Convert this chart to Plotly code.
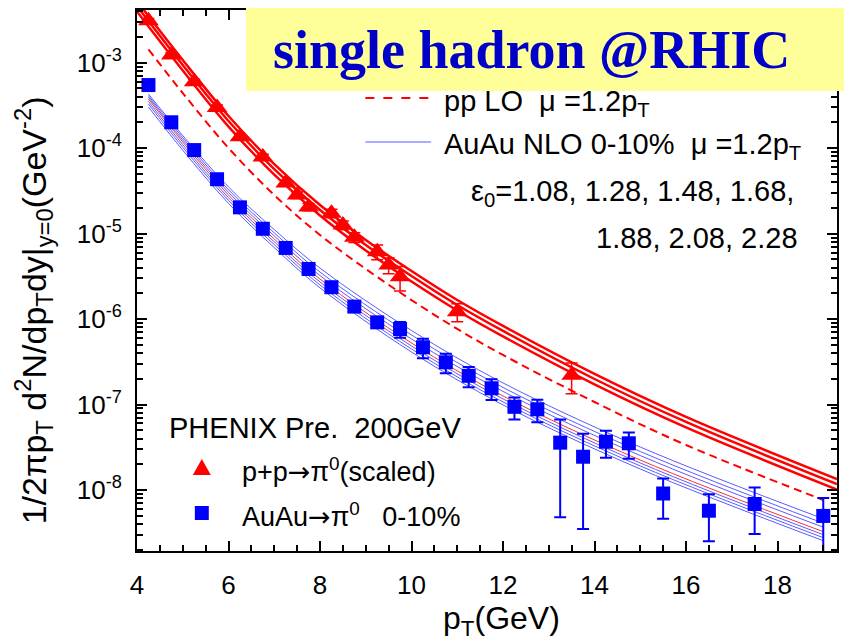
import plotly.graph_objects as go

# ---------------- data ----------------
# PHENIX preliminary p+p -> pi0 (scaled), 200 GeV
pp_pt = [4.25, 4.75, 5.25, 5.75, 6.25, 6.75, 7.25, 7.5, 7.75, 8.25, 8.5, 8.75,
         9.25, 9.5, 9.75, 11.0, 13.5]
pp_yield = [3.1e-3, 1.23e-3, 6.0e-4, 3.0e-4, 1.36e-4, 7.9e-5, 3.9e-5, 2.83e-5,
            2.05e-5, 1.73e-5, 1.26e-5, 9.06e-6, 6.15e-6, 4.3e-6, 3.13e-6,
            1.22e-6, 2.2e-7]
pp_err = [2e-4, 8e-5, 4e-5, 2e-5, 1e-5, 6e-6, 3e-6, 2.5e-6, 2e-6, 2e-6, 1.5e-6,
          1.2e-6, 1.2e-6, 0.9e-6, 1.0e-6, 0.29e-6, 0.86e-7]

# PHENIX preliminary Au+Au -> pi0, 0-10% central
auau_pt = [4.25, 4.75, 5.25, 5.75, 6.25, 6.75, 7.25, 7.75, 8.25, 8.75, 9.25, 9.75,
           10.25, 10.75, 11.25, 11.75, 12.25, 12.75, 13.25, 13.75, 14.25, 14.75,
           15.5, 16.5, 17.5, 19.0]
auau_yield = [5.48e-4, 2.01e-4, 9.5e-5, 4.33e-5, 2.03e-5, 1.14e-5, 6.8e-6, 3.86e-6,
              2.36e-6, 1.40e-6, 9.16e-7, 7.65e-7, 4.68e-7, 3.12e-7, 2.17e-7,
              1.55e-7, 9.4e-8, 8.8e-8, 3.58e-8, 2.45e-8, 3.67e-8, 3.52e-8,
              9.1e-9, 5.72e-9, 6.86e-9, 4.97e-9]
auau_err = [2e-5, 8e-6, 4e-6, 2e-6, 1e-6, 6e-7, 4e-7, 2.5e-7, 1.6e-7, 1.2e-7, 1.0e-7,
            1.6e-7, 1.2e-7, 0.8e-7, 0.58e-7, 0.42e-7, 2.7e-8, 2.6e-8, 3.1e-8,
            2.1e-8, 1.28e-8, 1.2e-8, 4.5e-9, 3.2e-9, 3.8e-9, 3.1e-9]

# pp NLO curves (three scale choices)
nlo_pt = [4, 5, 6, 7, 8, 9, 10, 11, 12, 14, 16, 19.3]
nlo_upper = [5.26e-3, 1.075e-3, 2.38e-4, 6.52e-5, 2.16e-5, 8.42e-6, 3.65e-6,
             1.67e-6, 8.31e-7, 2.28e-7, 7.15e-8, 1.34e-8]
nlo_middle = [4.60e-3, 9.40e-4, 2.08e-4, 5.70e-5, 1.89e-5, 7.36e-6, 3.19e-6,
              1.46e-6, 7.26e-7, 1.99e-7, 6.25e-8, 1.17e-8]
nlo_lower = [3.97e-3, 8.10e-4, 1.79e-4, 4.91e-5, 1.63e-5, 6.34e-6, 2.75e-6,
             1.26e-6, 6.26e-7, 1.72e-7, 5.39e-8, 1.01e-8]

# pp LO, mu = 1.2 pT
lo_pt = [4.25, 5, 6, 7, 8, 9, 10, 11, 12, 14, 16, 19]
lo_yield = [1.43e-3, 4.42e-4, 1.005e-4, 2.83e-5, 9.64e-6, 3.86e-6, 1.67e-6,
            7.66e-7, 3.80e-7, 1.07e-7, 3.36e-8, 7.64e-9]

# AuAu NLO 0-10%, mu = 1.2 pT, one curve per epsilon_0
band_pt = [4.25, 5, 6, 7, 8, 10, 12, 15, 19]
eps_108 = [4.30e-4, 1.405e-4, 3.51e-5, 1.117e-5, 3.95e-6, 7.35e-7, 1.79e-7, 3.18e-8, 4.61e-9]
eps_128 = [4.11e-4, 1.325e-4, 3.26e-5, 1.022e-5, 3.55e-6, 6.52e-7, 1.584e-7, 2.82e-8, 4.09e-9]
eps_148 = [3.93e-4, 1.248e-4, 3.04e-5, 9.40e-6, 3.23e-6, 5.85e-7, 1.423e-7, 2.53e-8, 3.67e-9]
eps_168 = [3.76e-4, 1.18e-4, 2.83e-5, 8.65e-6, 2.94e-6, 5.25e-7, 1.26e-7, 2.24e-8, 3.25e-9]
eps_188 = [3.52e-4, 1.100e-4, 2.63e-5, 8.02e-6, 2.72e-6, 4.85e-7, 1.163e-7, 2.07e-8, 3.00e-9]
eps_208 = [3.29e-4, 1.025e-4, 2.45e-5, 7.44e-6, 2.51e-6, 4.47e-7, 1.072e-7, 1.91e-8, 2.77e-9]
eps_228 = [3.03e-4, 9.46e-5, 2.26e-5, 6.86e-6, 2.32e-6, 4.12e-7, 9.89e-8, 1.76e-8, 2.55e-9]

x_ticks = [4, 6, 8, 10, 12, 14, 16, 18]
y_ticks = [1e-8, 1e-7, 1e-6, 1e-5, 1e-4, 1e-3]
y_ticktext = ["10<sup>-8</sup>", "10<sup>-7</sup>", "10<sup>-6</sup>",
              "10<sup>-5</sup>", "10<sup>-4</sup>", "10<sup>-3</sup>"]

# ---------------- styling ----------------
RED = "#FF0000"
BLUE = "#0000FF"
BAND_BLUE = "#5A5AFF"
SANS = "Liberation Sans, Arial, sans-serif"
ARROW = '<span style="font-family:DejaVu Sans">\u2192</span>'

W, H = 844, 644
L, R, T, B = 137, 5, 10, 93
PW, PH = W - L - R, H - T - B


def px(x):
    return (x - L) / PW


def py(y):
    return (H - B - y) / PH


fig = go.Figure()

# AuAu NLO band
for ys, col in [(eps_108, BAND_BLUE), (eps_128, BAND_BLUE), (eps_148, BAND_BLUE),
                (eps_188, BAND_BLUE), (eps_208, BAND_BLUE), (eps_228, BAND_BLUE),
                (eps_168, "#FF3030")]:
    fig.add_trace(go.Scatter(x=band_pt, y=ys, mode="lines",
                             line=dict(color=col, width=1, shape="spline"),
                             showlegend=False, hoverinfo="skip"))

# pp LO
fig.add_trace(go.Scatter(x=lo_pt, y=lo_yield, mode="lines",
                         line=dict(color=RED, width=2, dash="8px,5px", shape="spline"),
                         showlegend=False))

# pp NLO
for ys in (nlo_upper, nlo_middle, nlo_lower):
    fig.add_trace(go.Scatter(x=nlo_pt, y=ys, mode="lines",
                             line=dict(color=RED, width=2.5, shape="spline"),
                             showlegend=False))

# data
fig.add_trace(go.Scatter(
    x=pp_pt, y=pp_yield, mode="markers",
    marker=dict(symbol="triangle-up", size=18, color=RED),
    error_y=dict(type="data", array=pp_err, color=RED, thickness=1.5, width=6),
    showlegend=False))
fig.add_trace(go.Scatter(
    x=auau_pt, y=auau_yield, mode="markers",
    marker=dict(symbol="square", size=14, color=BLUE),
    error_y=dict(type="data", array=auau_err, color=BLUE, thickness=2, width=6),
    showlegend=False))

axis_common = dict(showline=True, linecolor="black", linewidth=2, mirror="ticks",
                   ticks="inside", tickcolor="black", tickwidth=2, ticklen=10,
                   showgrid=False, zeroline=False,
                   tickfont=dict(family=SANS, size=26, color="black"))

fig.update_xaxes(range=[4, 19.3], tickvals=x_ticks, ticklabelstandoff=10,
                 minor=dict(ticks="inside", dtick=0.5, ticklen=6, tickwidth=2,
                            tickcolor="black", showgrid=False),
                 **axis_common)
fig.update_yaxes(type="log", range=[-8.714, -2.383], tickvals=y_ticks,
                 ticktext=y_ticktext, ticklabelstandoff=8,
                 minor=dict(ticks="inside", dtick="D1", ticklen=6, tickwidth=2,
                            tickcolor="black", showgrid=False),
                 **axis_common)

shapes = [
    dict(type="line", xref="paper", yref="paper", x0=px(366), x1=px(432),
         y0=py(98), y1=py(98), line=dict(color=RED, width=2, dash="dash")),
    dict(type="line", xref="paper", yref="paper", x0=px(366), x1=px(432),
         y0=py(142), y1=py(142), line=dict(color=BAND_BLUE, width=1)),
    dict(type="path", xref="paper", yref="paper",
         path=f"M {px(193)} {py(475)} L {px(211)} {py(475)} L {px(202)} {py(459)} Z",
         fillcolor=RED, line=dict(width=0)),
    dict(type="rect", xref="paper", yref="paper", x0=px(195), x1=px(209),
         y0=py(520), y1=py(506), fillcolor=BLUE, line=dict(width=0)),
]


def txt(text, x, y, size=29, anchor="left"):
    return dict(text=text, xref="paper", yref="paper", x=px(x), y=py(y),
                xanchor=anchor, yanchor="middle", showarrow=False,
                font=dict(family=SANS, size=size, color="black"))


annotations = [
    txt("pp LO  \u03bc =1.2p<sub>T</sub>", 443, 103),
    txt("AuAu NLO 0-10%  \u03bc =1.2p<sub>T</sub>", 443, 146),
    txt("\u03b5<sub>0</sub>=1.08, 1.28, 1.48, 1.68,", 470, 193),
    txt("1.88, 2.08, 2.28", 595, 238),
    txt("PHENIX Pre.  200GeV", 167, 428),
    txt("p+p" + ARROW + "\u03c0<sup>0</sup>(scaled)", 240, 470, size=27),
    txt("AuAu" + ARROW + "\u03c0<sup>0</sup>   0-10%", 240, 515, size=27),
    # title box
    dict(text="&nbsp;&nbsp;<b>single hadron @RHIC</b>", xref="paper", yref="paper",
         x=px(246), y=py(8), xanchor="left", yanchor="top", showarrow=False,
         width=598, height=83, borderpad=0, borderwidth=0, align="left",
         bgcolor="#FFFF99",
         font=dict(family="Liberation Serif, Times New Roman, serif", size=54,
                   color="#0000C8")),
    # axis titles
    dict(text="p<sub>T</sub>(GeV)", xref="paper", yref="paper", x=px(503),
         y=py(620), xanchor="center", yanchor="middle", showarrow=False,
         font=dict(family=SANS, size=32, color="black")),
    dict(text="1/2\u03c0p<sub>T</sub> d<sup>2</sup>N/dp<sub>T</sub>dy|<sub>y=0</sub>(GeV<sup>-2</sup>)",
         xref="paper", yref="paper", x=px(33), y=py(310), textangle=-90,
         xanchor="center", yanchor="middle", showarrow=False,
         font=dict(family=SANS, size=34, color="black")),
]

fig.update_layout(width=W, height=H, margin=dict(l=L, r=R, t=T, b=B),
                  paper_bgcolor="white", plot_bgcolor="white",
                  shapes=shapes, annotations=annotations, showlegend=False)

fig.write_html("out.html")
